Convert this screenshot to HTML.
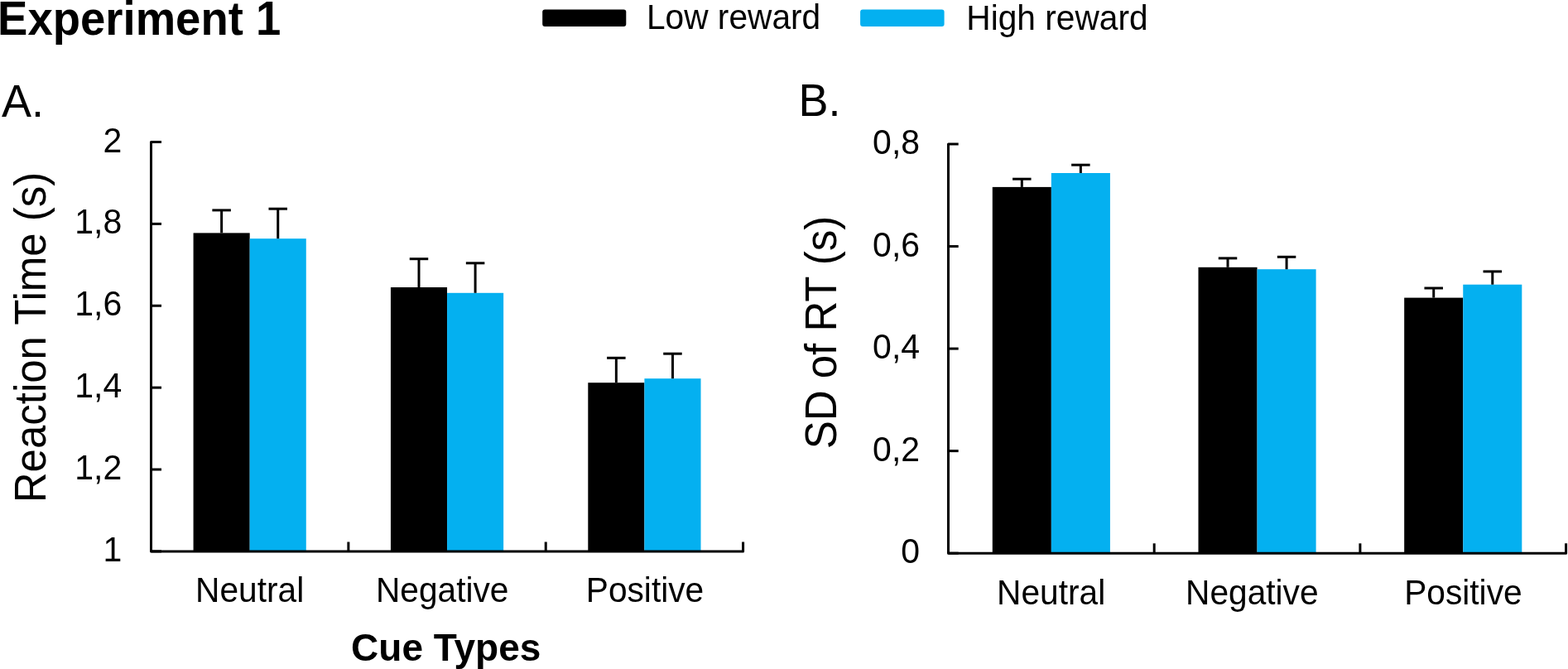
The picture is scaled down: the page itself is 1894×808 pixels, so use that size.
<!DOCTYPE html><html><head><meta charset="utf-8"><style>html,body{margin:0;padding:0;background:#fff;width:1894px;height:808px;overflow:hidden}svg{display:block}text{font-family:"Liberation Sans",Arial,sans-serif;fill:#000}</style></head><body>
<svg width="1894" height="808" viewBox="0 0 1894 808">
<rect width="1894" height="808" fill="#fff"/>
<text transform="translate(-2.9 41.5) scale(1 1.055)" font-size="54.5" font-weight="700">Experiment 1</text>
<rect x="655.2" y="11.4" width="101.1" height="20.5" rx="3" fill="#000"/>
<text transform="translate(780.9 35.4) scale(1 1.025)" font-size="40.7">Low reward</text>
<rect x="1039.1" y="11.4" width="101.5" height="20.7" rx="3" fill="#04B0F0"/>
<text transform="translate(1167.3 35.7) scale(1 1.025)" font-size="40.7">High reward</text>
<text transform="translate(2.0 140.8) scale(1 1.04)" font-size="54">A.</text>
<text transform="translate(964.4 139.6) scale(1 1.04)" font-size="54">B.</text>
<rect x="233.58" y="281.4" width="68.10" height="384.50" fill="#000"/>
<rect x="301.68" y="288.2" width="68.10" height="377.70" fill="#04B0F0"/>
<line x1="267.63" y1="281.4" x2="267.63" y2="253.9" stroke="#000" stroke-width="3"/>
<line x1="256.38" y1="253.9" x2="278.88" y2="253.9" stroke="#000" stroke-width="3"/>
<line x1="335.74" y1="288.2" x2="335.74" y2="252.2" stroke="#000" stroke-width="3"/>
<line x1="324.49" y1="252.2" x2="346.99" y2="252.2" stroke="#000" stroke-width="3"/>
<rect x="471.95" y="347" width="68.10" height="318.90" fill="#000"/>
<rect x="540.05" y="353.8" width="68.10" height="312.10" fill="#04B0F0"/>
<line x1="506.00" y1="347" x2="506.00" y2="312.7" stroke="#000" stroke-width="3"/>
<line x1="494.75" y1="312.7" x2="517.25" y2="312.7" stroke="#000" stroke-width="3"/>
<line x1="574.10" y1="353.8" x2="574.10" y2="317.8" stroke="#000" stroke-width="3"/>
<line x1="562.85" y1="317.8" x2="585.35" y2="317.8" stroke="#000" stroke-width="3"/>
<rect x="710.31" y="462.2" width="68.10" height="203.70" fill="#000"/>
<rect x="778.42" y="457.2" width="68.10" height="208.70" fill="#04B0F0"/>
<line x1="744.36" y1="462.2" x2="744.36" y2="432.3" stroke="#000" stroke-width="3"/>
<line x1="733.11" y1="432.3" x2="755.61" y2="432.3" stroke="#000" stroke-width="3"/>
<line x1="812.47" y1="457.2" x2="812.47" y2="427.2" stroke="#000" stroke-width="3"/>
<line x1="801.22" y1="427.2" x2="823.72" y2="427.2" stroke="#000" stroke-width="3"/>
<path d="M195.00 171.5H182.5V665.9H897.60V654.5" fill="none" stroke="#000" stroke-width="3" stroke-linejoin="round"/>
<line x1="182.5" y1="665.90" x2="195.00" y2="665.90" stroke="#000" stroke-width="3"/>
<line x1="182.5" y1="567.02" x2="195.00" y2="567.02" stroke="#000" stroke-width="3"/>
<line x1="182.5" y1="468.14" x2="195.00" y2="468.14" stroke="#000" stroke-width="3"/>
<line x1="182.5" y1="369.26" x2="195.00" y2="369.26" stroke="#000" stroke-width="3"/>
<line x1="182.5" y1="270.38" x2="195.00" y2="270.38" stroke="#000" stroke-width="3"/>
<line x1="420.87" y1="654.5" x2="420.87" y2="665.9" stroke="#000" stroke-width="3"/>
<line x1="659.23" y1="654.5" x2="659.23" y2="665.9" stroke="#000" stroke-width="3"/>
<text transform="translate(147.3 678.00) scale(1 1.025)" font-size="41" text-anchor="end">1</text>
<text transform="translate(147.3 579.12) scale(1 1.025)" font-size="41" text-anchor="end">1,2</text>
<text transform="translate(147.3 480.24) scale(1 1.025)" font-size="41" text-anchor="end">1,4</text>
<text transform="translate(147.3 381.36) scale(1 1.025)" font-size="41" text-anchor="end">1,6</text>
<text transform="translate(147.3 282.48) scale(1 1.025)" font-size="41" text-anchor="end">1,8</text>
<text transform="translate(147.3 183.60) scale(1 1.025)" font-size="41" text-anchor="end">2</text>
<text transform="translate(301.60 727) scale(1 1.025)" font-size="40.7" text-anchor="middle">Neutral</text>
<text transform="translate(534.20 727) scale(1 1.025)" font-size="40.7" text-anchor="middle">Negative</text>
<text transform="translate(779.00 727) scale(1 1.025)" font-size="40.7" text-anchor="middle">Positive</text>
<rect x="1198.79" y="225.9" width="71.06" height="442.30" fill="#000"/>
<rect x="1269.85" y="209" width="71.06" height="459.20" fill="#04B0F0"/>
<line x1="1234.32" y1="225.9" x2="1234.32" y2="216.2" stroke="#000" stroke-width="3"/>
<line x1="1223.07" y1="216.2" x2="1245.57" y2="216.2" stroke="#000" stroke-width="3"/>
<line x1="1305.38" y1="209" x2="1305.38" y2="199.2" stroke="#000" stroke-width="3"/>
<line x1="1294.13" y1="199.2" x2="1316.63" y2="199.2" stroke="#000" stroke-width="3"/>
<rect x="1447.49" y="322.8" width="71.06" height="345.40" fill="#000"/>
<rect x="1518.55" y="325.2" width="71.06" height="343.00" fill="#04B0F0"/>
<line x1="1483.02" y1="322.8" x2="1483.02" y2="311.9" stroke="#000" stroke-width="3"/>
<line x1="1471.77" y1="311.9" x2="1494.27" y2="311.9" stroke="#000" stroke-width="3"/>
<line x1="1554.08" y1="325.2" x2="1554.08" y2="310.3" stroke="#000" stroke-width="3"/>
<line x1="1542.83" y1="310.3" x2="1565.33" y2="310.3" stroke="#000" stroke-width="3"/>
<rect x="1696.19" y="359.6" width="71.06" height="308.60" fill="#000"/>
<rect x="1767.25" y="343.7" width="71.06" height="324.50" fill="#04B0F0"/>
<line x1="1731.72" y1="359.6" x2="1731.72" y2="348" stroke="#000" stroke-width="3"/>
<line x1="1720.47" y1="348" x2="1742.97" y2="348" stroke="#000" stroke-width="3"/>
<line x1="1802.78" y1="343.7" x2="1802.78" y2="327.9" stroke="#000" stroke-width="3"/>
<line x1="1791.53" y1="327.9" x2="1814.03" y2="327.9" stroke="#000" stroke-width="3"/>
<path d="M1157.70 174.0H1145.5V668.2H1891.60V656.3" fill="none" stroke="#000" stroke-width="3" stroke-linejoin="round"/>
<line x1="1145.5" y1="668.20" x2="1157.70" y2="668.20" stroke="#000" stroke-width="3"/>
<line x1="1145.5" y1="544.65" x2="1157.70" y2="544.65" stroke="#000" stroke-width="3"/>
<line x1="1145.5" y1="421.10" x2="1157.70" y2="421.10" stroke="#000" stroke-width="3"/>
<line x1="1145.5" y1="297.55" x2="1157.70" y2="297.55" stroke="#000" stroke-width="3"/>
<line x1="1394.20" y1="656.3" x2="1394.20" y2="668.2" stroke="#000" stroke-width="3"/>
<line x1="1642.90" y1="656.3" x2="1642.90" y2="668.2" stroke="#000" stroke-width="3"/>
<text transform="translate(1111.1 680.30) scale(1 1.025)" font-size="41" text-anchor="end">0</text>
<text transform="translate(1111.1 556.75) scale(1 1.025)" font-size="41" text-anchor="end">0,2</text>
<text transform="translate(1111.1 433.20) scale(1 1.025)" font-size="41" text-anchor="end">0,4</text>
<text transform="translate(1111.1 309.65) scale(1 1.025)" font-size="41" text-anchor="end">0,6</text>
<text transform="translate(1111.1 186.10) scale(1 1.025)" font-size="41" text-anchor="end">0,8</text>
<text transform="translate(1269.60 729.6) scale(1 1.025)" font-size="40.7" text-anchor="middle">Neutral</text>
<text transform="translate(1512.30 729.6) scale(1 1.025)" font-size="40.7" text-anchor="middle">Negative</text>
<text transform="translate(1767.40 729.6) scale(1 1.025)" font-size="40.7" text-anchor="middle">Positive</text>
<text transform="translate(538.7 797.6) scale(1 1.02)" font-size="46" font-weight="700" text-anchor="middle">Cue Types</text>
<text transform="translate(54.6 607.3) rotate(-90) scale(1 1.04)" font-size="51">Reaction Time (s)</text>
<text transform="translate(1009.5 542.3) rotate(-90) scale(1 1.04)" font-size="51">SD of RT (s)</text>
</svg></body></html>
